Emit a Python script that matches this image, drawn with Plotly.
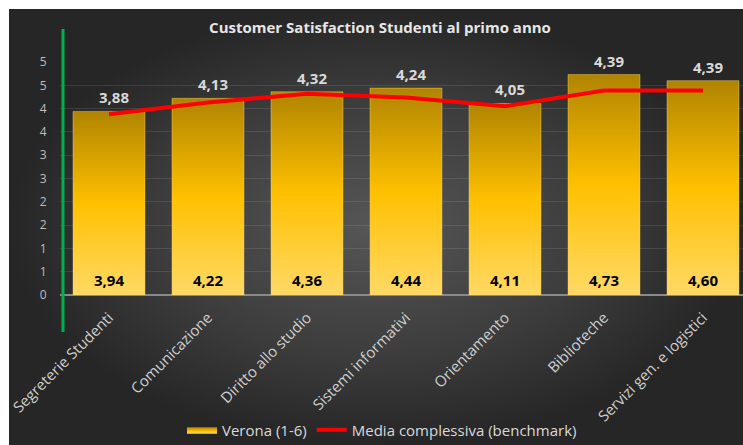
import plotly.graph_objects as go

# data
categories = [
    'Segreterie Studenti', 'Comunicazione', 'Diritto allo studio',
    'Sistemi informativi', 'Orientamento', 'Biblioteche',
    'Servizi gen. e logistici',
]
verona = [3.94, 4.22, 4.36, 4.44, 4.11, 4.73, 4.60]
media = [3.88, 4.13, 4.32, 4.24, 4.05, 4.39, 4.39]
y_tick_labels = ['0', '1', '1', '2', '2', '3', '3', '4', '4', '5', '5']

W, H = 743, 445
FONT = 'Open Sans'
BAR_W = 0.727


def fmt(v):
    return f'{v:.2f}'.replace('.', ',')


fig = go.Figure()

# dark radial background panel (pixel-space helper axes)
fig.add_trace(go.Scatter(
    x=[9, W, W, 9, 9], y=[9, 9, H, H, 9],
    mode='lines', fill='toself',
    fillgradient=dict(type='radial',
                      colorscale=[[0, '#565656'], [0.6, '#3c3c3c'], [1, '#262626']]),
    line=dict(width=0), showlegend=False, hoverinfo='skip',
    xaxis='x', yaxis='y',
))

# bars as gradient-filled polygons
gold = [[0, '#FFD966'], [0.5, '#FFC000'], [1, '#B08400']]
for i, v in enumerate(verona):
    x0, x1 = i - BAR_W / 2, i + BAR_W / 2
    fig.add_trace(go.Scatter(
        x=[x0, x1, x1, x0, x0], y=[0, 0, v, v, 0],
        mode='lines', fill='toself',
        fillgradient=dict(type='vertical', colorscale=gold),
        line=dict(width=0.8, color='rgba(255,220,120,0.5)'),
        name='Verona (1-6)', legendgroup='verona', showlegend=(i == 0),
        hovertemplate=f'{categories[i]}: {fmt(v)}<extra></extra>',
        xaxis='x2', yaxis='y2',
    ))

fig.add_trace(go.Scatter(
    x=list(range(len(categories))), y=media,
    mode='lines', line=dict(color='#FF0000', width=4),
    name='Media complessiva (benchmark)',
    xaxis='x2', yaxis='y2',
))

for i, (v, m) in enumerate(zip(verona, media)):
    fig.add_annotation(x=i, y=max(v, m), xref='x2', yref='y2', text=fmt(m),
                       showarrow=False, yanchor='bottom', yshift=2, xshift=5,
                       font=dict(family=FONT, size=15, color='#d9d9d9', weight='bold'))
    fig.add_annotation(x=i, y=0, xref='x2', yref='y2', text=fmt(v),
                       showarrow=False, yanchor='bottom', yshift=3,
                       font=dict(family=FONT, size=15, color='#000000', weight='bold'))

fig.add_shape(type='line', xref='x', yref='y', x0=63, x1=63, y0=29, y1=332,
              line=dict(color='#00B050', width=3), layer='above')

fig.update_layout(
    width=W, height=H,
    margin=dict(l=0, r=0, t=0, b=0, autoexpand=False),
    paper_bgcolor='white',
    plot_bgcolor='rgba(0,0,0,0)',
    title=dict(text='<b>Customer Satisfaction Studenti al primo anno</b>',
               x=380 / W, xanchor='center', y=1 - 28 / H, yanchor='middle',
               font=dict(family=FONT, size=15, color='#e6e6e6')),
    xaxis=dict(domain=[0, 1], range=[0, W], visible=False, fixedrange=True),
    yaxis=dict(domain=[0, 1], range=[H, 0], visible=False, fixedrange=True),
    xaxis2=dict(domain=[59.5 / W, 1], range=[-0.5, 6.404], anchor='y2',
                tickvals=list(range(len(categories))), ticktext=categories,
                tickangle=-45, ticks='', showgrid=False, zeroline=False,
                showline=False, ticklabelstandoff=10, automargin=False,
                tickfont=dict(family=FONT, size=15, color='#d0d0d0')),
    yaxis2=dict(domain=[1 - 295 / H, 1 - 62 / H], range=[0, 5], anchor='x2',
                tickvals=[k * 0.5 for k in range(11)], ticktext=y_tick_labels,
                showgrid=True, gridcolor='rgba(255,255,255,0.10)', gridwidth=1,
                zeroline=True, zerolinecolor='#8a8a8a', zerolinewidth=2,
                ticks='', ticklabelstandoff=12, automargin=False,
                tickfont=dict(family=FONT, size=12, color='#bfbfbf')),
    legend=dict(orientation='h', x=382 / W, xanchor='center',
                y=1 - 430 / H, yanchor='middle', bgcolor='rgba(0,0,0,0)',
                font=dict(family=FONT, size=15, color='#d9d9d9')),
    showlegend=True,
)

# drop the default page margin so the figure sits at the window origin
fig.write_html(
    'out.html',
    config={'displayModeBar': False},
    post_script="document.body.style.margin='0';"
                "document.documentElement.style.overflow='hidden';",
)
